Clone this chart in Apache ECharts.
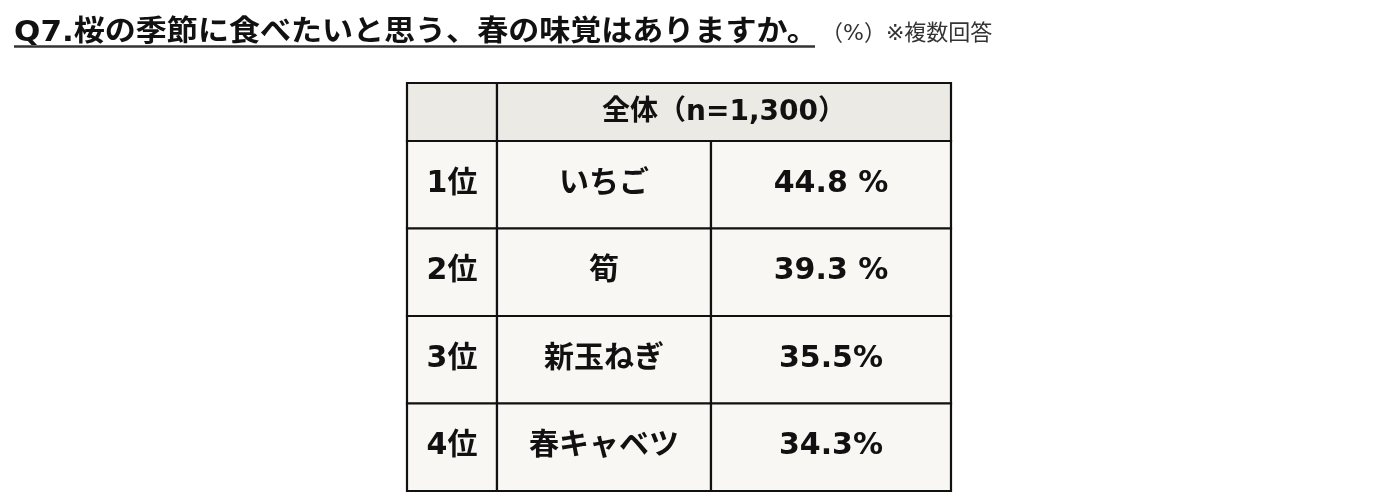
<!DOCTYPE html>
<html>
<head>
<meta charset="utf-8">
<script src="https://cdn.jsdelivr.net/npm/echarts@6/dist/echarts.min.js"></script>
<style>
html,body{margin:0;padding:0;background:#ffffff;}
#chart{width:1400px;height:502px;}
</style>
</head>
<body>
<div id="chart"></div>
<script>
// ---- data ----
const titleText = 'Q7.桜の季節に食べたいと思う、春の味覚はありますか。';
const noteText = '（%）※複数回答';
const headerLabel = '全体（n=1,300）';
const ranks = ['1位', '2位', '3位', '4位'];
const items = ['いちご', '筍', '新玉ねぎ', '春キャベツ'];
const values = [44.8, 39.3, 35.5, 34.3];
const pctSuffix = [' %', ' %', '%', '%'];

// ---- layout (table geometry in axis units) ----
const colEdges = [0, 90, 304, 544];
const rowEdges = [0, 58, 145.5, 233, 320.5, 408];
const FONT = '"DejaVu Sans", "Noto Sans CJK JP", sans-serif';

// build cells: [colStart, colEnd, row]
const cells = [];
const cellText = [];
cells.push([0, 1, 0]); cellText.push('');
cells.push([1, 3, 0]); cellText.push(headerLabel);
ranks.forEach((r, i) => {
  cells.push([0, 1, i + 1]); cellText.push(r);
  cells.push([1, 2, i + 1]); cellText.push(items[i]);
  cells.push([2, 3, i + 1]); cellText.push(values[i].toFixed(1) + pctSuffix[i]);
});

const chart = echarts.init(document.getElementById('chart'), null, {renderer: 'canvas'});
chart.setOption({
  backgroundColor: '#ffffff',
  animation: false,
  grid: {left: 407, top: 83, width: 544, height: 408},
  xAxis: {type: 'value', min: 0, max: 544, show: false},
  yAxis: {type: 'value', min: 0, max: 408, inverse: true, show: false},
  graphic: [
    {
      type: 'text', x: 14, y: 33, scaleX: 1.07, silent: true,
      style: {text: titleText, fontFamily: FONT, fontWeight: 'bold', fontSize: 29,
              fill: '#111111', verticalAlign: 'middle', align: 'left'}
    },
    {
      type: 'line', silent: true,
      shape: {x1: 14, y1: 46.5, x2: 815, y2: 46.5},
      style: {stroke: '#333333', lineWidth: 2.5}
    },
    {
      type: 'text', x: 821, y: 34, silent: true,
      style: {text: noteText, fontFamily: FONT, fontWeight: 'normal', fontSize: 22,
              fill: '#333333', verticalAlign: 'middle', align: 'left'}
    }
  ],
  series: [{
    type: 'custom',
    coordinateSystem: 'cartesian2d',
    data: cells.map(c => ({value: [c[0], c[1], c[2]]})),
    renderItem: function (params, api) {
      const c0 = api.value(0), c1 = api.value(1), r = api.value(2);
      const p0 = api.coord([colEdges[c0], rowEdges[r]]);
      const p1 = api.coord([colEdges[c1], rowEdges[r + 1]]);
      const x = p0[0], y = p0[1], w = p1[0] - p0[0], h = p1[1] - p0[1];
      const isHeader = r === 0;
      return {
        type: 'group',
        children: [
          {
            type: 'rect',
            shape: {x: x, y: y, width: w, height: h},
            style: {fill: isHeader ? '#ebeae5' : '#f8f7f4', stroke: '#111111', lineWidth: 2.2}
          },
          {
            type: 'text',
            x: x + w / 2, y: y + h / 2 + (isHeader ? 1 : -1),
            style: {
              text: cellText[params.dataIndex],
              fontFamily: FONT, fontWeight: 'bold',
              fontSize: isHeader ? 28 : 30,
              fill: '#111111', align: 'center', verticalAlign: 'middle'
            }
          }
        ]
      };
    }
  }]
});
</script>
</body>
</html>
